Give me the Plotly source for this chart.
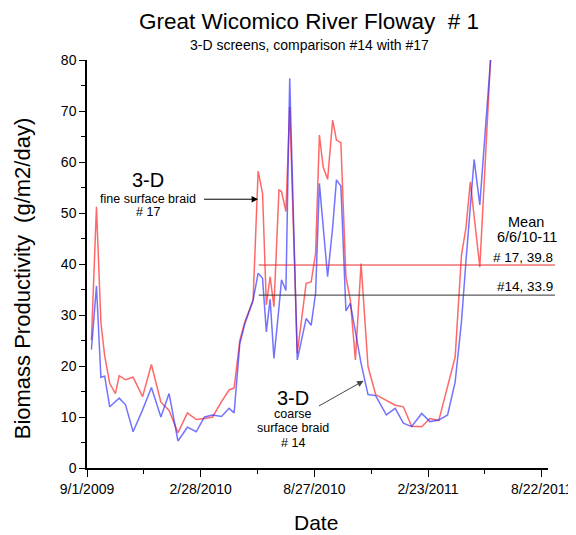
import plotly.graph_objects as go

DATES = [
    "2009-09-08", "2009-09-16", "2009-09-23", "2009-09-29", "2009-10-07", "2009-10-16",
    "2009-10-22", "2009-11-01", "2009-11-13", "2009-11-28", "2009-12-12", "2009-12-27",
    "2010-01-09", "2010-01-23", "2010-02-07", "2010-02-21", "2010-03-06", "2010-03-19",
    "2010-04-02", "2010-04-14", "2010-04-22", "2010-05-01", "2010-05-09", "2010-05-22",
    "2010-05-30", "2010-06-06", "2010-06-12", "2010-06-18", "2010-06-24", "2010-07-02",
    "2010-07-06", "2010-07-13", "2010-07-19", "2010-07-31", "2010-08-14", "2010-08-22",
    "2010-08-29", "2010-09-04", "2010-09-10", "2010-09-17", "2010-09-25", "2010-10-01",
    "2010-10-08", "2010-10-16", "2010-10-23", "2010-10-31", "2010-11-09", "2010-11-20",
    "2010-12-02", "2010-12-19", "2011-01-02", "2011-01-15", "2011-01-28", "2011-02-13",
    "2011-02-26", "2011-03-12", "2011-03-26", "2011-04-07", "2011-04-17", "2011-04-24",
    "2011-05-01", "2011-05-07", "2011-05-16", "2011-05-26", "2011-06-02",
]

FINE_17 = [
    25.1, 51.2, 28.5, 22.0, 16.6, 14.6, 18.1, 17.3, 17.8, 14.0, 20.3, 12.9,
    11.3, 6.9, 10.8, 9.5, 9.7, 10.0, 13.0, 15.3, 15.7, 25.0, 28.7, 32.9,
    58.2, 53.8, 32.0, 37.5, 31.6, 54.5, 54.2, 50.3, 70.8, 22.5, 36.2, 36.5,
    42.1, 65.3, 59.0, 56.6, 68.2, 64.3, 63.8, 37.5, 32.9, 21.2, 40.1, 19.9,
    14.4, 13.3, 12.3, 12.0, 8.2, 8.1, 9.7, 9.3, 15.9, 21.8, 41.8, 47.0,
    56.1, 49.6, 39.4, 63.3, 80.0,
]

COARSE_14 = [
    23.2, 35.7, 17.8, 18.0, 12.0, 13.0, 13.7, 12.4, 7.1, 11.4, 15.8, 10.0,
    14.6, 5.3, 8.0, 7.1, 10.0, 10.4, 10.1, 11.7, 10.8, 24.4, 28.3, 32.9,
    38.2, 37.2, 26.7, 33.1, 21.5, 31.5, 36.9, 34.8, 76.4, 21.2, 29.3, 28.0,
    34.3, 55.8, 47.1, 37.5, 47.2, 56.5, 55.3, 30.8, 32.3, 26.4, 20.5, 14.4,
    14.2, 10.4, 11.7, 8.8, 8.1, 10.7, 9.1, 9.4, 10.4, 16.9, 28.7, 40.4,
    51.0, 60.5, 51.6, 67.9, 80.0,
]

MEAN_START = "2010-05-31"
MEAN_END = "2011-09-01"
MEAN_17 = 39.8
MEAN_14 = 33.9

TICK_DATES = ["2009-09-01", "2010-02-28", "2010-08-27", "2011-02-23", "2011-08-22"]
TICK_LABELS = ["9/1/2009", "2/28/2010", "8/27/2010", "2/23/2011", "8/22/2011"]
Y_TICKS = [0, 10, 20, 30, 40, 50, 60, 70, 80]

FONT = "Liberation Sans, Arial, sans-serif"

fig = go.Figure()
fig.add_trace(go.Scatter(x=DATES, y=FINE_17, mode="lines",
                         line=dict(color="rgba(255,40,40,0.7)", width=1.5),
                         name="#17", showlegend=False))
fig.add_trace(go.Scatter(x=DATES, y=COARSE_14, mode="lines",
                         line=dict(color="rgba(40,40,255,0.65)", width=1.5),
                         name="#14", showlegend=False))

RED_MEAN = "rgb(230,40,40)"
BLK_MEAN = "rgb(50,50,50)"
for val, col in ((MEAN_17, RED_MEAN), (MEAN_14, BLK_MEAN)):
    fig.add_shape(type="line", xref="x", yref="y", x0=MEAN_START, x1=MEAN_END,
                  y0=val, y1=val, line=dict(color=col, width=1))
    fig.add_shape(type="line", xref="paper", yref="y", x0=1, x1=1.0151,
                  y0=val, y1=val, line=dict(color=col, width=1))

ann = []
def txt(x, y, s, size, xanchor="center", xref="x", yref="y", xshift=0, yshift=0, angle=0):
    ann.append(dict(x=x, y=y, xref=xref, yref=yref, text=s, showarrow=False,
                    font=dict(family=FONT, size=size, color="black"),
                    xanchor=xanchor, yanchor="middle", xshift=xshift, yshift=yshift,
                    textangle=angle))

# titles
txt(0.4816, 1, "Great Wicomico River Floway  # 1", 22.5, xref="paper", yref="paper", yshift=39)
txt(0.4816, 1, "3-D screens, comparison #14 with #17", 14, xref="paper", yref="paper", yshift=15)
txt(0.497, 0, "Date", 21, xref="paper", yref="paper", yshift=-54)
txt(0, 0.465, "Biomass Productivity  (g/m2/day)", 22, xref="paper", yref="paper", xshift=-65, angle=-90)

# fine braid label
txt("2009-12-06", 56.4, "3-D", 20)
txt("2009-12-06", 52.7, "fine surface braid", 12.5)
txt("2009-12-06", 50.1, "# 17", 12.5)
# coarse braid label
txt("2010-07-24", 13.8, "3-D", 20)
txt("2010-07-24", 10.5, "coarse", 12.5)
txt("2010-07-24", 7.8, "surface braid", 12.5)
txt("2010-07-24", 5.0, "# 14", 12.5)
# mean labels
txt(0.9525, 48.2, "Mean", 14.5, xref="paper")
txt(0.955, 45.3, "6/6/10-11", 14.5, xref="paper")
txt(1.0151, 41.3, "# 17, 39.8", 13.5, xanchor="right", xref="paper")
txt(1.0151, 35.5, "#14, 33.9", 13.5, xanchor="right", xref="paper")

# arrows
ann.append(dict(x="2010-05-30", y=52.7, ax="2010-03-03", ay=52.7, xref="x", yref="y",
                axref="x", ayref="y", text="", showarrow=True, arrowhead=2,
                arrowsize=1.3, arrowwidth=1, arrowcolor="black"))
ann.append(dict(x="2010-11-13", y=17.1, ax="2010-09-01", ay=12.0, xref="x", yref="y",
                axref="x", ayref="y", text="", showarrow=True, arrowhead=2,
                arrowsize=1.3, arrowwidth=1, arrowcolor="rgb(70,70,70)"))

fig.update_layout(
    width=576, height=535,
    margin=dict(l=79, r=34, t=52, b=75),
    paper_bgcolor="white", plot_bgcolor="white",
    font=dict(family=FONT, color="black"),
    annotations=ann,
    showlegend=False,
)
fig.update_xaxes(
    type="date", range=["2009-09-01", "2011-09-01"],
    tickvals=TICK_DATES, ticktext=TICK_LABELS, ticklabeloverflow="allow",
    ticks="outside", ticklen=7, tickwidth=1.2, tickcolor="black",
    showline=True, linecolor="black", linewidth=1.5, showgrid=False, zeroline=False,
    tickfont=dict(family=FONT, size=14, color="black"),
    minor=dict(ticks="outside", ticklen=4, tick0="2009-09-01", dtick=90 * 86400000,
               tickcolor="black", showgrid=False),
)
fig.update_yaxes(
    range=[0, 80], tickvals=Y_TICKS,
    ticks="outside", ticklen=6, tickwidth=1.2, tickcolor="black",
    showline=True, linecolor="black", linewidth=1.5, showgrid=False, zeroline=False,
    tickfont=dict(family=FONT, size=14, color="black"),
    minor=dict(ticks="outside", ticklen=4, dtick=5, tickcolor="black", showgrid=False),
)

fig.write_html("out.html")
